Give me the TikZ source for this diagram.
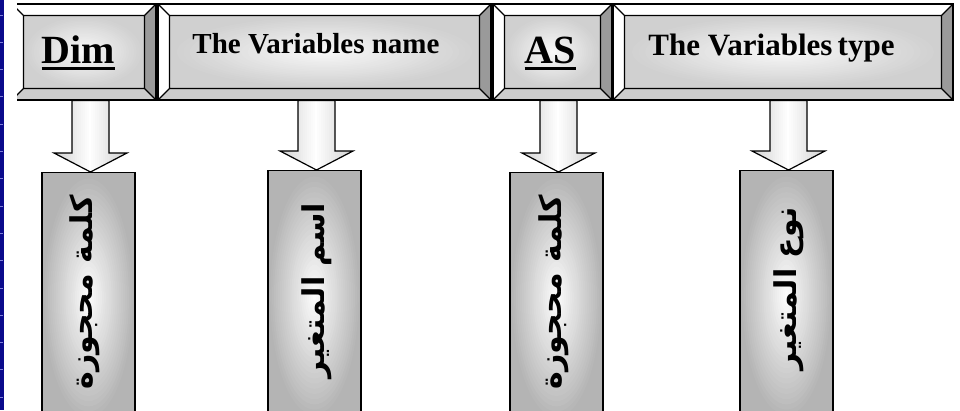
\documentclass[tikz,border=0pt]{standalone}
\usepackage{fontspec}
\setmainfont{Liberation Serif}
\newfontfamily\arabicfont[Script=Arabic]{DejaVu Sans}
\TeXXeTstate=1
\usetikzlibrary{calc}

\definecolor{navy}{HTML}{0A0A8C}
\definecolor{tickblue}{HTML}{8080D8}
\definecolor{bevdark}{HTML}{9A9A9A}
\definecolor{bevlight}{HTML}{CCCCCC}
\definecolor{faceedge}{HTML}{D0D0D0}
\definecolor{coledge}{HTML}{B4B4B4}
\definecolor{arredge}{HTML}{CFCFCF}

% stepped elliptic gradient inside a path picture:
% #1 edge colour, #2 inset from the path edge, #3 whiteness at the centre (percent)
\newcommand\ellgrad[3]{%
  \pgfpointdiff{\pgfpointanchor{path picture bounding box}{south west}}%
               {\pgfpointanchor{path picture bounding box}{north east}}%
  \pgfgetlastxy{\gw}{\gh}%
  \foreach \i in {0,...,34}{%
    \pgfmathsetmacro\rr{1.45*(1-\i/35)}%
    \pgfmathtruncatemacro\pc{#3*max(0,1-\rr)}%
    \fill[white!\pc!#1] (path picture bounding box.center)
      ellipse [x radius={\rr*(\gw/2-#2)}, y radius={\rr*(\gh/2-#2)}];
  }}

\tikzset{
  bevelbox/.style={rectangle, draw=black, line width=1.2pt, inner sep=0pt,
    path picture={
      \def\bv{11.5pt}
      \ellgrad{faceedge}{11.5pt}{88}
      \coordinate (ONW) at (path picture bounding box.north west);
      \coordinate (ONE) at (path picture bounding box.north east);
      \coordinate (OSW) at (path picture bounding box.south west);
      \coordinate (OSE) at (path picture bounding box.south east);
      \coordinate (INW) at ([xshift=\bv,yshift=-\bv]ONW);
      \coordinate (INE) at ([xshift=-\bv,yshift=-\bv]ONE);
      \coordinate (ISW) at ([xshift=\bv,yshift=\bv]OSW);
      \coordinate (ISE) at ([xshift=-\bv,yshift=\bv]OSE);
      \fill[white] (ONW) -- (ONE) -- (INE) -- (INW) -- cycle;
      \fill[white] (ONW) -- (OSW) -- (ISW) -- (INW) -- cycle;
      \fill[bevdark] (ONE) -- (OSE) -- (ISE) -- (INE) -- cycle;
      \fill[bevlight] (OSW) -- (OSE) -- (ISE) -- (ISW) -- cycle;
      \draw[line width=1.2pt] (INW) rectangle (ISE)
        (ONW) -- (INW) (ONE) -- (INE) (OSW) -- (ISW) (OSE) -- (ISE);
    }},
  colbox/.style={rectangle, draw=black, line width=1.3pt, anchor=north,
    minimum height=250pt, minimum width=93pt,
    path picture={\ellgrad{coledge}{0pt}{100}}},
  arrowline/.style={draw=black, line width=1.2pt},
  toplabel/.style={inner sep=0pt, anchor=base},
  collabel/.style={inner sep=0pt, rotate=90, font=\arabicfont\bfseries\fontsize{30}{30}\selectfont},
  underbar/.style={line width=3pt}
}

% outline of a block arrow from header box #1 down to column box #2
\def\arrowoutline#1#2{let \p1=(#2.north), \p2=(#1.south) in
    (\x1+2pt-18.5pt,\y2) -- (\x1+2pt+18.5pt,\y2) -- (\x1+2pt+18.5pt,\y1+19pt)
    -- (\x1+2pt+36.5pt,\y1+19pt) -- (\x1+2pt,\y1) -- (\x1+2pt-36.5pt,\y1+19pt)
    -- (\x1+2pt-18.5pt,\y1+19pt) -- cycle}

% block arrow, lighter along its axis
\newcommand\vararrow[2]{%
  \begin{scope}
    \clip \arrowoutline{#1}{#2};
    \foreach \i in {-19,...,19}{%
      \pgfmathtruncatemacro\pc{100*(1-abs(\i)/19)}%
      \fill[white!\pc!arredge] let \p1=(#2.north) in
        (\x1+2pt+\i*2pt-1.1pt,\y1) rectangle (\x1+2pt+\i*2pt+1.1pt,\y1+90pt);
    }
  \end{scope}
  \draw[arrowline] \arrowoutline{#1}{#2};}

\begin{document}
\begin{tikzpicture}[x=1pt,y=-1pt]
\useasboundingbox (0,0) rectangle (960,410);
\clip (0,0) rectangle (960,410);

% slide edge
\fill[navy] (0,0) rectangle (4,410);
\foreach \k in {0,...,14}
  \draw[tickblue, line width=1pt] (0,15+27.3*\k) -- (3,15+27.3*\k);

% header boxes
\begin{scope}
  \clip (17,0) rectangle (160,110);
  \node[bevelbox, minimum width=144pt, minimum height=96pt] (n1) at (84,52) {};
\end{scope}
\node[bevelbox, minimum width=333pt, minimum height=96pt] (n2) at (324.5,52) {};
\node[bevelbox, minimum width=119pt, minimum height=96pt] (n3) at (552.5,52) {};
\node[bevelbox, minimum width=340pt, minimum height=96pt] (n4) at (783,52) {};

\node[toplabel, font=\bfseries\fontsize{40}{40}\selectfont] (t1) at (78.5,63) {Dim};
\draw[underbar] ([yshift=-5.5pt]t1.base west) -- ([yshift=-5.5pt]t1.base east);
\node[toplabel, font=\bfseries\fontsize{29}{29}\selectfont] (t2) at (316,53) {The Variables name};
\node[toplabel, font=\bfseries\fontsize{40}{40}\selectfont] (t3) at (550.5,63) {AS};
\draw[underbar] ([yshift=-5.5pt]t3.base west) -- ([yshift=-5.5pt]t3.base east);
\node[toplabel, font=\bfseries\fontsize{31}{31}\selectfont] (t4) at (771.5,55) {The Variables\hspace{0.17em}type};

% column boxes
\node[colbox] (v1) at (88.5,172) {};
\node[colbox] (v2) at (314.5,170) {};
\node[colbox] (v3) at (556.5,172) {};
\node[colbox] (v4) at (786.5,170) {};

% connectors
\vararrow{n1}{v1}
\vararrow{n2}{v2}
\vararrow{n3}{v3}
\vararrow{n4}{v4}

% column labels
\node[collabel] (a1) at (85,292.5) {\beginR كلمة محجوزة\endR};
\node[collabel] (a2) at (317,290.5) {\beginR اسم المتغير\endR};
\node[collabel] (a3) at (554,292) {\beginR كلمة محجوزة\endR};
\node[collabel] (a4) at (789,289) {\beginR نوع المتغير\endR};
\end{tikzpicture}
\end{document}
